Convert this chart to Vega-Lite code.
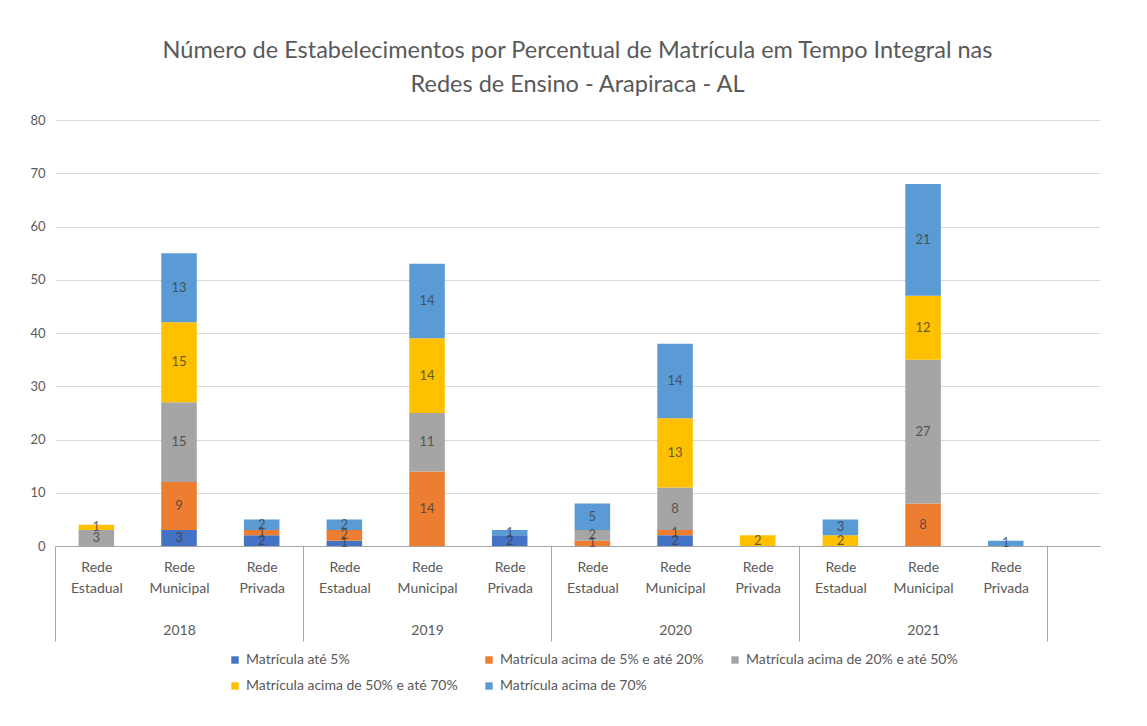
{
  "$schema": "https://vega.github.io/schema/vega-lite/v6.json",
  "width": 1045,
  "height": 426,
  "autosize": {"type": "none"},
  "padding": {"left": 55, "top": 120, "right": 47, "bottom": 180},
  "background": "white",
  "config": {
    "font": "Lato",
    "view": {"stroke": null}
  },
  "title": {
    "text": ["Número de Estabelecimentos por  Percentual de Matrícula em Tempo Integral nas", "Redes de Ensino - Arapiraca - AL"],
    "fontSize": 23.5,
    "fontWeight": "normal",
    "font": "Lato",
    "color": "#595959",
    "lineHeight": 34,
    "anchor": "middle",
    "offset": 18
  },
  "data": {
    "values": [
      {"grupo": "2018|Rede Estadual", "faixa": 3, "categoria": "Matrícula  acima de 20% e até 50%", "n": 3},
      {"grupo": "2018|Rede Estadual", "faixa": 4, "categoria": "Matrícula acima de 50% e até 70%", "n": 1},
      {"grupo": "2018|Rede Municipal", "faixa": 1, "categoria": "Matrícula até 5%", "n": 3},
      {"grupo": "2018|Rede Municipal", "faixa": 2, "categoria": "Matrícula acima de 5% e até 20%", "n": 9},
      {"grupo": "2018|Rede Municipal", "faixa": 3, "categoria": "Matrícula  acima de 20% e até 50%", "n": 15},
      {"grupo": "2018|Rede Municipal", "faixa": 4, "categoria": "Matrícula acima de 50% e até 70%", "n": 15},
      {"grupo": "2018|Rede Municipal", "faixa": 5, "categoria": "Matrícula acima de 70%", "n": 13},
      {"grupo": "2018|Rede Privada", "faixa": 1, "categoria": "Matrícula até 5%", "n": 2},
      {"grupo": "2018|Rede Privada", "faixa": 2, "categoria": "Matrícula acima de 5% e até 20%", "n": 1},
      {"grupo": "2018|Rede Privada", "faixa": 5, "categoria": "Matrícula acima de 70%", "n": 2},
      {"grupo": "2019|Rede Estadual", "faixa": 1, "categoria": "Matrícula até 5%", "n": 1},
      {"grupo": "2019|Rede Estadual", "faixa": 2, "categoria": "Matrícula acima de 5% e até 20%", "n": 2},
      {"grupo": "2019|Rede Estadual", "faixa": 5, "categoria": "Matrícula acima de 70%", "n": 2},
      {"grupo": "2019|Rede Municipal", "faixa": 2, "categoria": "Matrícula acima de 5% e até 20%", "n": 14},
      {"grupo": "2019|Rede Municipal", "faixa": 3, "categoria": "Matrícula  acima de 20% e até 50%", "n": 11},
      {"grupo": "2019|Rede Municipal", "faixa": 4, "categoria": "Matrícula acima de 50% e até 70%", "n": 14},
      {"grupo": "2019|Rede Municipal", "faixa": 5, "categoria": "Matrícula acima de 70%", "n": 14},
      {"grupo": "2019|Rede Privada", "faixa": 1, "categoria": "Matrícula até 5%", "n": 2},
      {"grupo": "2019|Rede Privada", "faixa": 5, "categoria": "Matrícula acima de 70%", "n": 1},
      {"grupo": "2020|Rede Estadual", "faixa": 2, "categoria": "Matrícula acima de 5% e até 20%", "n": 1},
      {"grupo": "2020|Rede Estadual", "faixa": 3, "categoria": "Matrícula  acima de 20% e até 50%", "n": 2},
      {"grupo": "2020|Rede Estadual", "faixa": 5, "categoria": "Matrícula acima de 70%", "n": 5},
      {"grupo": "2020|Rede Municipal", "faixa": 1, "categoria": "Matrícula até 5%", "n": 2},
      {"grupo": "2020|Rede Municipal", "faixa": 2, "categoria": "Matrícula acima de 5% e até 20%", "n": 1},
      {"grupo": "2020|Rede Municipal", "faixa": 3, "categoria": "Matrícula  acima de 20% e até 50%", "n": 8},
      {"grupo": "2020|Rede Municipal", "faixa": 4, "categoria": "Matrícula acima de 50% e até 70%", "n": 13},
      {"grupo": "2020|Rede Municipal", "faixa": 5, "categoria": "Matrícula acima de 70%", "n": 14},
      {"grupo": "2020|Rede Privada", "faixa": 4, "categoria": "Matrícula acima de 50% e até 70%", "n": 2},
      {"grupo": "2021|Rede Estadual", "faixa": 4, "categoria": "Matrícula acima de 50% e até 70%", "n": 2},
      {"grupo": "2021|Rede Estadual", "faixa": 5, "categoria": "Matrícula acima de 70%", "n": 3},
      {"grupo": "2021|Rede Municipal", "faixa": 2, "categoria": "Matrícula acima de 5% e até 20%", "n": 8},
      {"grupo": "2021|Rede Municipal", "faixa": 3, "categoria": "Matrícula  acima de 20% e até 50%", "n": 27},
      {"grupo": "2021|Rede Municipal", "faixa": 4, "categoria": "Matrícula acima de 50% e até 70%", "n": 12},
      {"grupo": "2021|Rede Municipal", "faixa": 5, "categoria": "Matrícula acima de 70%", "n": 21},
      {"grupo": "2021|Rede Privada", "faixa": 5, "categoria": "Matrícula acima de 70%", "n": 1}
    ]
  },
  "encoding": {
    "x": {
      "field": "grupo",
      "type": "nominal",
      "title": null,
      "scale": {
        "type": "band",
        "domain": ["2018|Rede Estadual", "2018|Rede Municipal", "2018|Rede Privada", "2019|Rede Estadual", "2019|Rede Municipal", "2019|Rede Privada", "2020|Rede Estadual", "2020|Rede Municipal", "2020|Rede Privada", "2021|Rede Estadual", "2021|Rede Municipal", "2021|Rede Privada"],
        "paddingInner": 0,
        "paddingOuter": 0.32,
        "align": 0
      },
      "axis": {
        "labelAngle": 0,
        "labelExpr": "(datum.extra || !datum.label) ? '' : (split(datum.label, '|')[1] == 'Rede Municipal' ? ['Rede', 'Municipal', '\u2800', split(datum.label, '|')[0]] : ['Rede', split(split(datum.label, '|')[1], ' ')[1]])",
        "labelLineHeight": 21,
        "labelFontSize": 14,
        "labelColor": "#595959",
        "labelBaseline": "top",
        "labelPadding": -81,
        "labelFont": "Lato",
        "labelLimit": 0,
        "tickBand": "extent",
        "tickSize": 95,
        "tickColor": "#A6A6A6",
        "tickOpacity": {
          "condition": {"test": "datum.extra || datum.value == '2018|Rede Privada' || datum.value == '2019|Rede Privada' || datum.value == '2020|Rede Privada' || datum.value == '2021|Rede Privada'", "value": 1},
          "value": 0
        },
        "domainColor": "#A6A6A6",
        "grid": false
      }
    },
    "y": {
      "field": "n",
      "type": "quantitative",
      "stack": "zero",
      "title": null,
      "scale": {"domain": [0, 80], "nice": false},
      "axis": {
        "values": [0, 10, 20, 30, 40, 50, 60, 70, 80],
        "domain": false,
        "ticks": false,
        "gridColor": "#D9D9D9",
        "labelColor": "#595959",
        "labelFontSize": 13,
        "labelPadding": 10,
        "labelFont": "Lato"
      }
    },
    "order": {"field": "faixa", "type": "quantitative"}
  },
  "layer": [
    {
      "mark": {"type": "bar", "width": {"band": 0.43}},
      "encoding": {
        "color": {
          "field": "categoria",
          "type": "nominal",
          "scale": {
            "domain": ["Matrícula até 5%", "Matrícula acima de 5% e até 20%", "Matrícula  acima de 20% e até 50%", "Matrícula acima de 50% e até 70%", "Matrícula acima de 70%"],
            "range": ["#4472C4", "#ED7D31", "#A5A5A5", "#FFC000", "#5B9BD5"]
          },
          "legend": {
            "title": null,
            "orient": "none",
            "legendX": 173,
            "legendY": 533,
            "direction": "horizontal",
            "columns": 3,
            "symbolType": "square",
            "symbolSize": 55,
            "symbolStrokeWidth": 0,
            "labelFontSize": 14,
            "labelColor": "#595959",
            "labelFont": "Lato",
            "labelLimit": 0,
            "labelOffset": 4,
            "rowPadding": 12,
            "columnPadding": 24
          }
        }
      }
    },
    {
      "mark": {"type": "text", "fontSize": 13, "color": "#404040", "opacity": 0.8, "font": "Lato"},
      "encoding": {
        "y": {"field": "n", "type": "quantitative", "stack": "zero", "bandPosition": 0.5},
        "detail": {"field": "categoria", "type": "nominal"},
        "text": {"field": "n", "type": "quantitative"}
      }
    }
  ]
}
